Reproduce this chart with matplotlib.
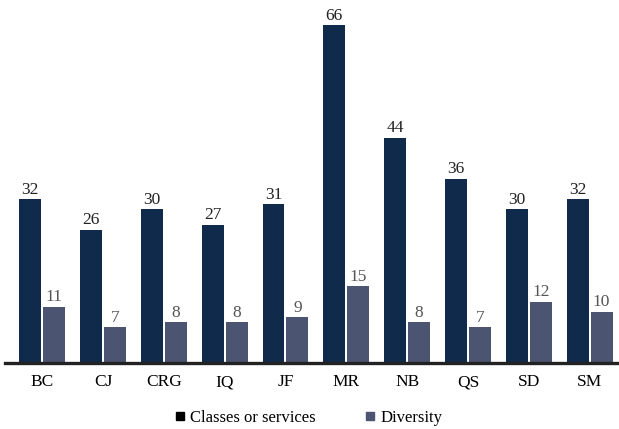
import matplotlib.pyplot as plt
from matplotlib.lines import Line2D
import numpy as np

plt.rcParams['font.family'] = ['Liberation Serif', 'DejaVu Serif']

categories = ['BC', 'CJ', 'CRG', 'IQ', 'JF', 'MR', 'NB', 'QS', 'SD', 'SM']
classes = [32, 26, 30, 27, 31, 66, 44, 36, 30, 32]
diversity = [11, 7, 8, 8, 9, 15, 8, 7, 12, 10]

dark = '#0f2a4b'
slate = '#4b5471'

fig = plt.figure(figsize=(6.19, 4.29), dpi=100)
ax = fig.add_axes([5/619, 66/429, 612/619, 363/429])

x = np.arange(len(categories))
w = 0.36
b1 = ax.bar(x - w/2 - 0.017, classes, w, color=dark)
b2 = ax.bar(x + w/2 + 0.017, diversity, w, color=slate)
ax.bar_label(b1, padding=1, fontsize=12.5, color='#222222')
ax.bar_label(b2, padding=1, fontsize=12.5, color='#555555')

ax.set_xlim(-0.61, 9.45)
ax.set_ylim(0, 70.9)
ax.set_xticks(x)
ax.set_xticklabels(categories, fontsize=12.5)
ax.tick_params(axis='x', length=0, pad=8)
ax.set_yticks([])
for s in ['top', 'right', 'left']:
    ax.spines[s].set_visible(False)
ax.spines['bottom'].set_linewidth(2.4)
ax.spines['bottom'].set_color('#222222')

handles = [Line2D([], [], marker='s', color='black', linestyle='none', markersize=6),
           Line2D([], [], marker='s', color=slate, linestyle='none', markersize=6)]
fig.legend(handles, ['Classes or services', 'Diversity'], loc='center',
           bbox_to_anchor=(307/619, 1 - 418/429), ncol=2, frameon=False,
           fontsize=12, handletextpad=0.1, columnspacing=2.8, handlelength=1)

fig.savefig('out.png', dpi=100)
